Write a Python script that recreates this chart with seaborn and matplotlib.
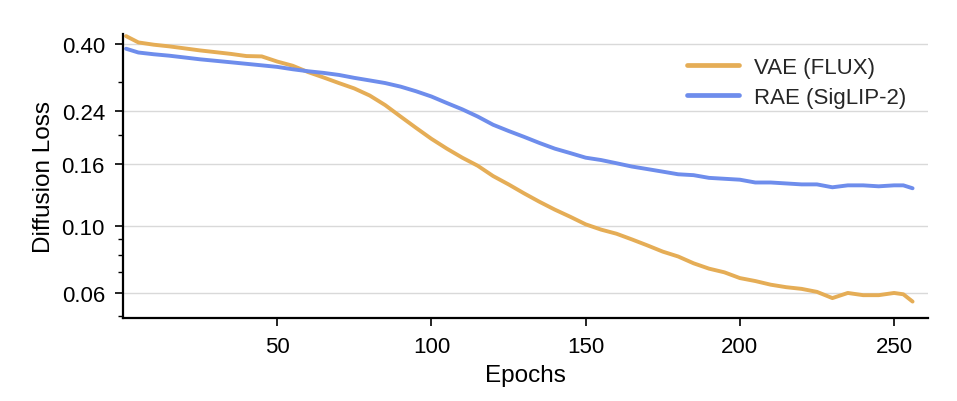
import matplotlib
matplotlib.use("Agg")
import matplotlib.pyplot as plt
import matplotlib.ticker as mticker
import seaborn as sns
import pandas as pd

# values
epochs = [1, 5, 10, 15, 20, 25, 30, 35, 40, 45, 50, 55, 60, 65, 70, 75, 80, 85,
          90, 95, 100, 105, 110, 115, 120, 125, 130, 135, 140, 145, 150, 155,
          160, 165, 170, 175, 180, 185, 190, 195, 200, 205, 210, 215, 220, 225,
          230, 235, 240, 245, 250, 253, 256]

vae_flux = [0.425, 0.405, 0.398, 0.393, 0.387, 0.381, 0.376, 0.371, 0.365, 0.364,
            0.350, 0.339, 0.323, 0.310, 0.297, 0.285, 0.270, 0.251, 0.230, 0.211,
            0.194, 0.180, 0.168, 0.158, 0.146, 0.137, 0.128, 0.120, 0.113, 0.107,
            0.101, 0.097, 0.094, 0.090, 0.086, 0.082, 0.079, 0.075, 0.072, 0.070,
            0.067, 0.0655, 0.0637, 0.0625, 0.0617, 0.0603, 0.0575, 0.0598, 0.0588,
            0.0588, 0.0598, 0.0592, 0.0560]

rae_siglip = [0.386, 0.375, 0.370, 0.366, 0.361, 0.356, 0.352, 0.348, 0.344, 0.340,
              0.336, 0.330, 0.325, 0.321, 0.316, 0.309, 0.303, 0.297, 0.289, 0.279,
              0.268, 0.255, 0.243, 0.230, 0.216, 0.206, 0.197, 0.188, 0.180, 0.174,
              0.168, 0.165, 0.161, 0.157, 0.154, 0.151, 0.148, 0.147, 0.144, 0.143,
              0.142, 0.139, 0.139, 0.138, 0.137, 0.137, 0.134, 0.136, 0.136, 0.135,
              0.136, 0.136, 0.133]

series_names = ["VAE (FLUX)", "RAE (SigLIP-2)"]
colors = ["#E5AD56", "#6E8DEC"]
y_ticks = [0.06, 0.10, 0.16, 0.24, 0.40]
y_tick_labels = ["0.06", "0.10", "0.16", "0.24", "0.40"]
x_ticks = [50, 100, 150, 200, 250]

df = pd.concat([
    pd.DataFrame({"Epochs": epochs, "loss": vae_flux, "model": series_names[0]}),
    pd.DataFrame({"Epochs": epochs, "loss": rae_siglip, "model": series_names[1]}),
])

sns.set_theme(style="ticks")
plt.rcParams["font.family"] = ["Liberation Sans", "DejaVu Sans"]

fig = plt.figure(figsize=(9.57, 4.02), dpi=100)
ax = fig.add_axes([0.1285, 0.2065, 0.8412, 0.7065])

sns.lineplot(data=df, x="Epochs", y="loss", hue="model", hue_order=series_names,
             palette=colors, linewidth=2.8, ax=ax)

ax.set_yscale("log")
ax.set_ylim(0.0494, 0.432)
ax.set_xlim(0, 261)
ax.yaxis.set_major_locator(mticker.FixedLocator(y_ticks))
ax.yaxis.set_major_formatter(mticker.FixedFormatter(y_tick_labels))
ax.yaxis.set_minor_locator(mticker.LogLocator(base=10, subs=range(2, 10)))
ax.yaxis.set_minor_formatter(mticker.NullFormatter())
ax.set_xticks(x_ticks)

ax.grid(axis="y", which="major", color="#d9d9d9", linewidth=1.0)
ax.set_axisbelow(True)
sns.despine(ax=ax)
for s in ["left", "bottom"]:
    ax.spines[s].set_linewidth(1.6)
    ax.spines[s].set_color("black")

ax.tick_params(axis="both", which="major", length=6, width=1.2, colors="black",
               labelsize=16, pad=7)
ax.tick_params(axis="y", which="minor", length=3.5, width=1.0, colors="black")

ax.set_xlabel("Epochs", fontsize=17.5, color="black", labelpad=5)
ax.set_ylabel("Diffusion Loss", fontsize=17.5, color="black", labelpad=5)

ax.legend(loc="upper right", bbox_to_anchor=(0.998, 0.99), frameon=False,
          fontsize=16, handlelength=2.3, handletextpad=0.7, labelspacing=0.4)
for line in ax.get_legend().get_lines():
    line.set_linewidth(3.4)

fig.savefig("out.png", dpi=100)
